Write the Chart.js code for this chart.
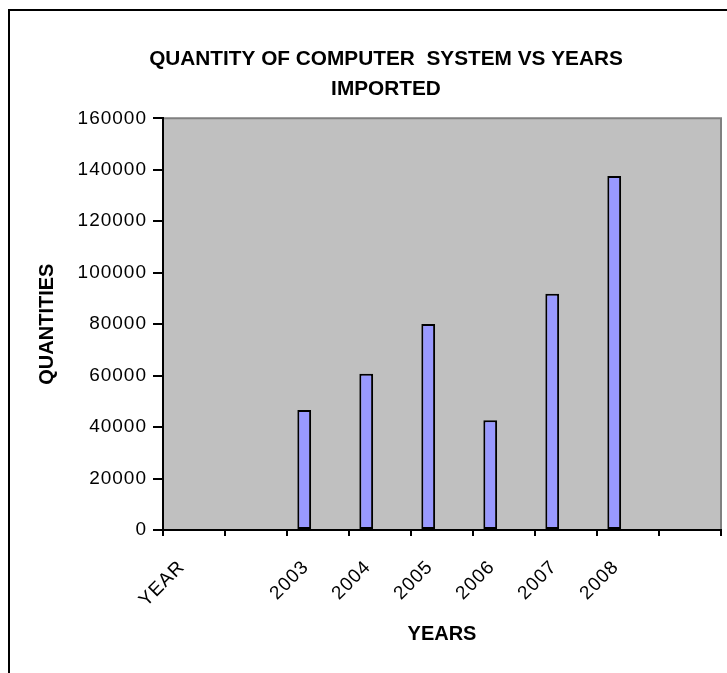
<!DOCTYPE html>
<html>
<head>
<meta charset="utf-8">
<script src="https://cdn.jsdelivr.net/npm/chart.js@4/dist/chart.umd.min.js"></script>
<style>
  html, body { margin: 0; padding: 0; background: #fff; overflow: hidden; }
  #frame { position: absolute; left: 8px; top: 9px; width: 800px; height: 800px;
           border-left: 2px solid #000; border-top: 2px solid #000; }
  #chart { position: absolute; left: 0; top: 0; }
</style>
</head>
<body>
<div id="frame"></div>
<canvas id="chart" width="727" height="673"></canvas>
<script>
// categories as in the sheet (first column header + blank rows)
const years = ['YEAR', '', '2003', '2004', '2005', '2006', '2007', '2008', ''];
// quantities
const quantities = [null, null, 46600, 60700, 80100, 42700, 91800, 137600, null];
// the two other series of the sheet are empty but still take their slot
const emptySeriesA = [null, null, null, null, null, null, null, null, null];
const emptySeriesB = [null, null, null, null, null, null, null, null, null];
const yTicks = [0, 20000, 40000, 60000, 80000, 100000, 120000, 140000, 160000];

const FONT = "'Liberation Sans', Arial, sans-serif";

// excel stretches the axis numbers a bit, fake it with letter spacing
if (Chart.Scale) {
    const origDrawLabels = Chart.Scale.prototype.drawLabels;
    Chart.Scale.prototype.drawLabels = function (area) {
        const ctx = this.ctx;
        const prev = ctx.letterSpacing;
        ctx.letterSpacing = '1px';
        origDrawLabels.call(this, area);
        ctx.letterSpacing = prev;
    };
}

const plotBackground = {
    id: 'plotBackground',
    beforeDraw(chart) {
        const {ctx, chartArea: a} = chart;
        ctx.save();
        ctx.fillStyle = '#C0C0C0';
        ctx.fillRect(a.left, a.top, a.right - a.left, a.bottom - a.top);
        ctx.strokeStyle = '#808080';
        ctx.lineWidth = 2;
        ctx.beginPath();
        ctx.moveTo(a.left, a.top);
        ctx.lineTo(a.right, a.top);
        ctx.lineTo(a.right, a.bottom);
        ctx.stroke();
        ctx.restore();
    }
};

const barStyle = {
    backgroundColor: '#9999FF',
    borderColor: '#000000',
    borderWidth: 2,
    borderSkipped: false,
    categoryPercentage: 3 / 4.5,
    barPercentage: 1
};

const ctx = document.getElementById('chart').getContext('2d');
const myChart = new Chart(ctx, {
    type: 'bar',
    data: {
        labels: years,
        datasets: [
            {label: 'QUANTITY', data: quantities, ...barStyle},
            {label: 'S2', data: emptySeriesA, ...barStyle},
            {label: 'S3', data: emptySeriesB, ...barStyle}
        ]
    },
    options: {
        responsive: false,
        animation: false,
        layout: {padding: {left: 51, right: 6, top: 0, bottom: 27}},
        plugins: {
            legend: {display: false},
            tooltip: {enabled: false},
            title: {
                display: true,
                text: ['QUANTITY OF COMPUTER  SYSTEM VS YEARS', 'IMPORTED'],
                color: '#000',
                font: {family: FONT, size: 20.8, weight: 'bold', lineHeight: 1.45},
                padding: {top: 44, bottom: 14}
            }
        },
        scales: {
            x: {
                grid: {display: true, drawOnChartArea: false, drawTicks: true, tickLength: 6,
                       color: '#000', lineWidth: 2, offset: true},
                border: {display: true, color: '#000', width: 2},
                ticks: {color: '#000', font: {family: FONT, size: 19}, minRotation: 45, maxRotation: 45,
                        autoSkip: false, padding: 20, labelOffset: -12},
                title: {display: true, text: 'YEARS', color: '#000',
                        font: {family: FONT, size: 20, weight: 'bold'}, padding: {top: 0, bottom: 0}},
                afterFit(scale) { scale.height = 116; }
            },
            y: {
                min: 0,
                max: 160000,
                afterBuildTicks(scale) { scale.ticks = yTicks.map(v => ({value: v})); },
                grid: {display: true, drawOnChartArea: false, drawTicks: true, tickLength: 10,
                       color: '#000', lineWidth: 2},
                border: {display: true, color: '#000', width: 2},
                ticks: {color: '#000', font: {family: FONT, size: 19}, padding: 6,
                        callback: value => String(value)},
                title: {display: true, text: 'QUANTITIES', color: '#000',
                        font: {family: FONT, size: 20, weight: 'bold'}, padding: {top: -16, bottom: 0}},
                afterFit(scale) { scale.width = 112; }
            }
        }
    },
    plugins: [plotBackground]
});
</script>
</body>
</html>
